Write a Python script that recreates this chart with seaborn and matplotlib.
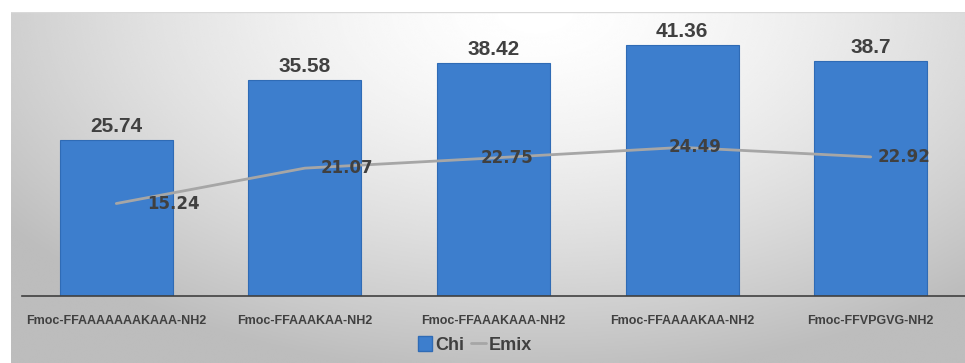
import numpy as np
import pandas as pd
import matplotlib
matplotlib.use("Agg")
import matplotlib.pyplot as plt
import seaborn as sns
from matplotlib.patches import Patch
from matplotlib.lines import Line2D

# Peptide sequences and the two measured series
peptides = [
    "Fmoc-FFAAAAAAAKAAA-NH2",
    "Fmoc-FFAAAKAA-NH2",
    "Fmoc-FFAAAKAAA-NH2",
    "Fmoc-FFAAAAKAA-NH2",
    "Fmoc-FFVPGVG-NH2",
]
chi = [25.74, 35.58, 38.42, 41.36, 38.7]
emix = [15.24, 21.07, 22.75, 24.49, 22.92]

# horizontal nudges (in points) for the Emix value labels
emix_label_dx = [41, 30, 10, 9, 24]

BAR_COLOR = "#3d7ecd"
LINE_COLOR = "#a6a6a6"
TEXT_COLOR = "#404040"
NARROW = ["Liberation Sans", "DejaVu Sans"]
WIDE = ["DejaVu Sans"]

sns.set_theme(style="white")
plt.rcParams["font.family"] = NARROW

df = pd.DataFrame({"peptide": peptides, "Chi": chi, "Emix": emix})

W, H = 965, 363
fig = plt.figure(figsize=(W / 100, H / 100), dpi=100, facecolor="white")

# soft radial background of the chart area
bg = fig.add_axes([11 / W, 0, 1 - 11 / W, 1 - 12 / H])
yy, xx = np.mgrid[0:1:300j, 0:1:800j]
r = np.sqrt(((xx - 0.55) / 0.72) ** 2 + ((yy - 0.0) / 1.1) ** 2)
shade = np.clip(1.0 - 0.28 * r ** 1.5, 0.74, 1.0)
bg.imshow(shade, cmap="gray", vmin=0, vmax=1, aspect="auto",
          extent=(0, 1, 0, 1), origin="upper", interpolation="bicubic")
bg.plot([0, 1], [1, 1], color="#d9d9d9", lw=1.0, transform=bg.transAxes)
bg.set_axis_off()

ax = fig.add_axes([22 / W, 1 - 296 / H, 1 - 22 / W, (296 - 12) / H])
ax.patch.set_alpha(0)

sns.barplot(data=df, x="peptide", y="Chi", color=BAR_COLOR, width=0.6,
            edgecolor="#2f6bb5", linewidth=0.8, saturation=1, ax=ax, zorder=2)
sns.lineplot(x=np.arange(len(peptides)), y=df["Emix"], color=LINE_COLOR,
             lw=2, ax=ax, zorder=3)

ax.set_xlim(-0.5, len(peptides) - 0.5)
ax.set_ylim(0, 46.8)
ax.set_xlabel("")
ax.set_ylabel("")
ax.set_yticks([])
for s in ["top", "right", "left"]:
    ax.spines[s].set_visible(False)
ax.spines["bottom"].set_color("#404040")
ax.spines["bottom"].set_linewidth(1.2)
ax.tick_params(axis="x", length=0, pad=14)
for lbl in ax.get_xticklabels():
    lbl.set_fontsize(9)
    lbl.set_fontweight("bold")
    lbl.set_color(TEXT_COLOR)

for i, v in enumerate(chi):
    ax.annotate(f"{v:g}", (i, v), xytext=(0, 3), textcoords="offset points",
                ha="center", va="bottom", fontsize=15, fontweight="bold",
                color=TEXT_COLOR, zorder=4)
for i, v in enumerate(emix):
    ax.annotate(f"{v:.2f}", (i, v), xytext=(emix_label_dx[i], 0),
                textcoords="offset points", ha="center", va="center",
                fontsize=12, fontweight="bold", color=TEXT_COLOR, zorder=4,
                family=WIDE)

handles = [Patch(facecolor=BAR_COLOR, edgecolor="#2f6bb5"),
           Line2D([0], [0], color=LINE_COLOR, lw=2)]
leg = fig.legend(handles, ["Chi", "Emix"], loc="center",
                 bbox_to_anchor=(0.492, 1 - 345 / H), ncol=2, frameon=False,
                 handlelength=0.8, handleheight=0.9, handletextpad=0.15,
                 columnspacing=0.4, prop={"weight": "bold", "size": 13})
for t in leg.get_texts():
    t.set_color(TEXT_COLOR)

fig.savefig("out.png", dpi=100, facecolor="white")
